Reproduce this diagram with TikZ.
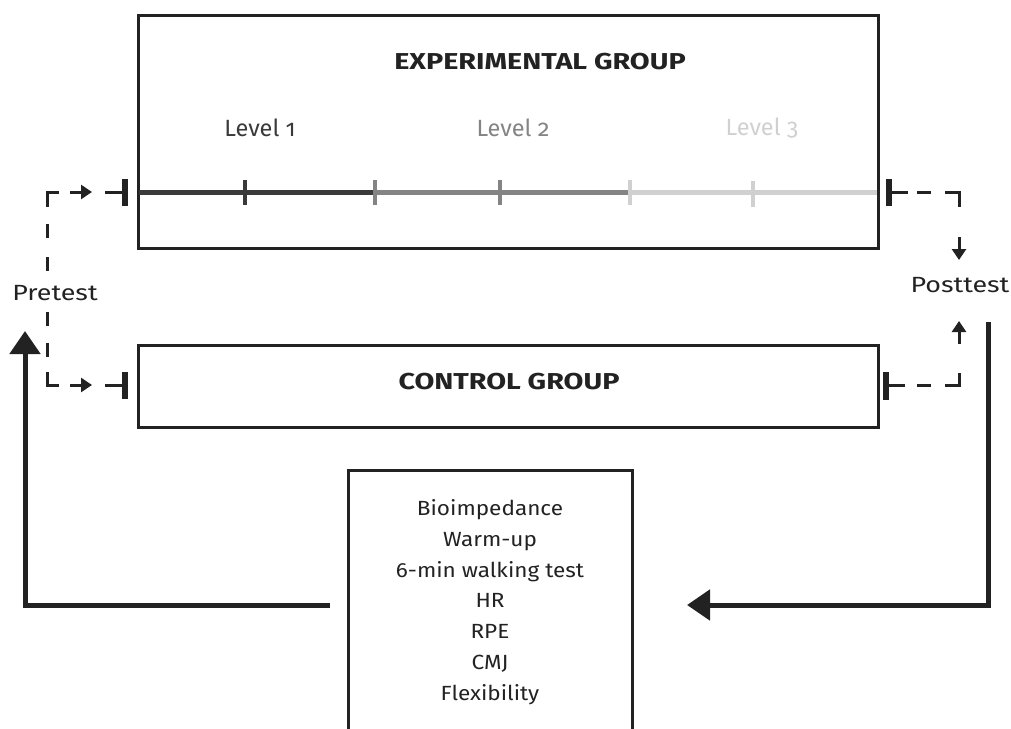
\documentclass[tikz,border=0pt]{standalone}
\usepackage{fontspec}
\setmainfont{Fira Sans}
\newfontfamily\lvlfont[Numbers=OldStyle]{Fira Sans}
\newfontfamily\grpfont[FakeStretch=1.25]{Fira Sans}
\newfontfamily\sidefont[FakeStretch=1.22]{Fira Sans}
\newfontfamily\listfont[FakeStretch=1.1]{Fira Sans}
\usetikzlibrary{arrows.meta}
\definecolor{ink}{HTML}{222222}
\definecolor{lvA}{HTML}{3A3A3A}
\definecolor{lvB}{HTML}{848484}
\definecolor{lvC}{HTML}{D0D0D0}
\tikzset{
  frame/.style={draw=ink, line width=3pt},
  lvl/.style={font=\lvlfont\fontsize{23.5}{28}\selectfont},
  grp/.style={font=\grpfont\bfseries\fontsize{23}{28}\selectfont, text=ink},
  side/.style={font=\sidefont\fontsize{22}{26}\selectfont, text=ink},
  listtxt/.style={font=\listfont\fontsize{20.5}{30.8}\selectfont, text=ink, align=center},
  seg/.style={line width=5pt},
  tick/.style={line width=4pt},
  dsh/.style={draw=ink, line width=3pt},
  bar/.style={draw=ink, line width=6pt},
  smallarr/.style={draw=ink, line width=3pt, -{Triangle[length=11pt,width=14pt]}},
  bigarr/.style={draw=ink, line width=5pt, -{Triangle[length=23pt,width=30pt]}},
}
\begin{document}
\begin{tikzpicture}[x=1pt,y=-1pt]
\useasboundingbox (0,0) rectangle (1011,728);
% boxes
\node[frame, minimum width=740pt, minimum height=233pt, inner sep=0] (exp) at (508,131.5) {};
\node[frame, minimum width=740pt, minimum height=82pt, inner sep=0] (ctrl) at (508,386) {};
\draw[frame] (348,740) -- (348,470) -- (632,470) -- (632,740);
\node[grp] (expt) at (540,62) {EXPERIMENTAL GROUP};
\node[grp] (ctrlt) at (509,382) {CONTROL GROUP};
\node[lvl, text=lvA] (l1) at (260,128) {Level 1};
\node[lvl, text=lvB] (l2) at (513,128) {Level 2};
\node[lvl, text=lvC] (l3) at (762,128) {Level 3};
% timeline
\coordinate (t0) at (139,192);
\coordinate (t1) at (375,192);
\coordinate (t2) at (630,192);
\coordinate (t3) at (877,192);
\draw[seg, lvA] (t0) -- (t1);
\draw[seg, lvB] (t1) -- (t2);
\draw[seg, lvC] (t2) -- (t3);
\draw[tick, lvA] (245,180) -- (245,205);
\draw[tick, lvB] (375,180) -- (375,205);
\draw[tick, lvB] (500,180) -- (500,205);
\draw[tick, lvC] (630,180) -- (630,205);
\draw[tick, lvC] (753,181) -- (753,207);
% measurement list
\node[listtxt] (list) at (490,602) {Bioimpedance\\Warm-up\\6-min walking test\\HR\\RPE\\CMJ\\Flexibility};
% pretest / posttest
\node[side] (pre) at (55,293) {Pretest};
\node[side] (post) at (960,285) {Posttest};
% left dashed connectors
\draw[dsh] (59,192) -- (47,192) -- (47,207);
\draw[dsh, dash pattern=on 14pt off 19pt] (47,224) -- (47,275);
\draw[dsh, dash pattern=on 14pt off 17pt] (47,312) -- (47,360);
\draw[dsh] (47,372) -- (47,385) -- (59,385);
\draw[smallarr] (70,192) -- (92,192);
\draw[smallarr] (70,385) -- (92,385);
\draw[dsh] (105,192) -- (122,192);
\draw[bar] (125,179) -- (125,206);
\draw[dsh] (105,385) -- (122,385);
\draw[bar] (125,372) -- (125,399);
% right dashed connectors
\draw[bar] (889,179) -- (889,206);
\draw[dsh] (889,192) -- (908,192);
\draw[dsh] (917,192) -- (931,192);
\draw[dsh] (945,192) -- (959,192) -- (959,207);
\draw[smallarr] (959,237) -- (959,260);
\draw[smallarr] (959,344) -- (959,321);
\draw[bar] (886,372) -- (886,400);
\draw[dsh] (886,385) -- (905,385);
\draw[dsh] (917,385) -- (931,385);
\draw[dsh] (945,385) -- (959,385) -- (959,373);
% big loop arrows
\draw[bigarr] (988,322) -- (988,605) -- (687,605);
\draw[bigarr] (330,605) -- (25,605) -- (25,331);
\end{tikzpicture}
\end{document}
